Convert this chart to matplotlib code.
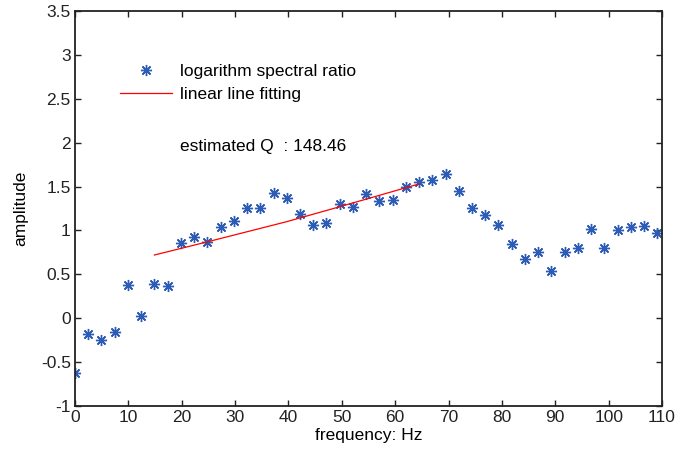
import numpy as np
import matplotlib
matplotlib.use('Agg')
import matplotlib.pyplot as plt
from matplotlib.ticker import FuncFormatter

plt.rcParams['font.family'] = ['Liberation Sans', 'DejaVu Sans']

# frequency samples (Hz) and log spectral ratio
freq = [0.0, 2.48, 4.96, 7.44, 9.92, 12.4, 14.88, 17.36, 19.84, 22.32,
        24.8, 27.28, 29.76, 32.24, 34.72, 37.2, 39.68, 42.16, 44.64, 47.12,
        49.6, 52.08, 54.56, 57.04, 59.52, 62.0, 64.48, 66.96, 69.44, 71.92,
        74.4, 76.88, 79.36, 81.84, 84.32, 86.8, 89.28, 91.76, 94.24, 96.72,
        99.2, 101.68, 104.16, 106.64, 109.12]
log_ratio = [-0.62, -0.18, -0.25, -0.16, 0.38, 0.02, 0.39, 0.37, 0.86, 0.92,
             0.87, 1.04, 1.11, 1.26, 1.25, 1.43, 1.37, 1.19, 1.06, 1.08,
             1.30, 1.27, 1.42, 1.33, 1.35, 1.50, 1.55, 1.57, 1.64, 1.45,
             1.25, 1.18, 1.06, 0.84, 0.68, 0.75, 0.54, 0.75, 0.80, 1.02,
             0.80, 1.00, 1.04, 1.05, 0.97]

# fitted line
fit_freq = [14.88, 24.8, 39.68, 49.6, 64.48]
fit_amp = [0.72, 0.87, 1.10, 1.27, 1.53]

q_value = 148.46
fs = 12.5

fig = plt.figure(figsize=(6.78, 4.53), dpi=100)
ax = fig.add_axes([0.1106, 0.1038, 0.8658, 0.8719])

ax.plot(freq, log_ratio, linestyle='none', marker=(8, 2, 0), markersize=8,
        markeredgewidth=1.0, color='#2d5cb5', label='logarithm spectral ratio')
ax.plot(fit_freq, fit_amp, color='#ff0000', linewidth=0.9, label='linear line fitting')

ax.text(19.7, 1.96, 'estimated Q  : %.2f' % q_value, fontsize=fs, va='center', ha='left')

leg = ax.legend(loc='upper left', bbox_to_anchor=(0.0767, 0.865), frameon=False,
                fontsize=fs, handlelength=3.0, handletextpad=0.45, labelspacing=0.45,
                borderaxespad=0, borderpad=0)

ax.set_xlim(0, 110)
ax.set_ylim(-1, 3.5)
ax.set_xticks(np.arange(0, 111, 10))
ax.set_yticks(np.arange(-1, 3.51, 0.5))
ax.yaxis.set_major_formatter(FuncFormatter(lambda v, p: '%g' % v))
ax.tick_params(direction='in', top=True, right=True, length=4, width=1,
               labelsize=fs, colors='#222222', pad=3)
for sp in ax.spines.values():
    sp.set_linewidth(1.3)
    sp.set_color('#222222')

ax.set_xlabel('frequency: Hz', fontsize=fs, labelpad=2)
ax.set_ylabel('amplitude', fontsize=fs, labelpad=9)

plt.savefig('out.png', dpi=100)
